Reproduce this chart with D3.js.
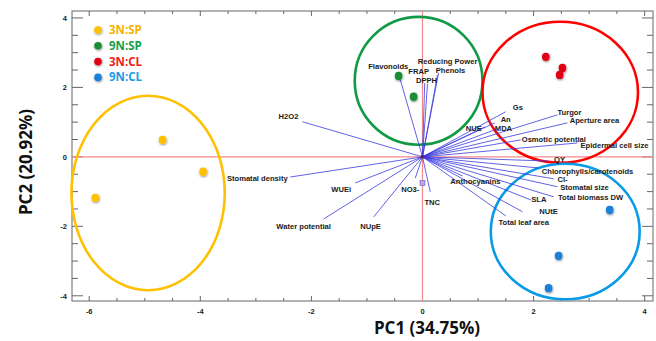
<!DOCTYPE html>
<html>
<head>
<meta charset="utf-8">
<script src="https://cdn.jsdelivr.net/npm/d3@7"></script>
<style>
  body { margin: 0; background: #fff; }
  svg { display: block; }
  text { font-family: "Liberation Sans", Arial, sans-serif; }
</style>
</head>
<body>
<div id="chart"></div>
<script>
// groups (scores)
var groups = ["3N:SP", "9N:SP", "3N:CL", "9N:CL"];
var groupColors = ["#ffc000", "#1e8c35", "#e30613", "#1a7fd8"];
var legendColors = ["#f5b400", "#13a04a", "#f01c1c", "#1d9be8"];
var ringColors = ["#ffc000", "#119a45", "#ff0000", "#0a9be6"];

var scoreX = [[-4.68, -3.95, -5.89], [-0.43, -0.16], [2.22, 2.52, 2.47], [3.37, 2.45, 2.27]];
var scoreY = [[0.49, -0.43, -1.18], [2.33, 1.73], [2.88, 2.56, 2.36], [-1.53, -2.85, -3.78]];

// confidence rings (centre + radii, data units)
var ringCx = [-4.94, -0.07, 2.48, 2.57];
var ringCy = [-1.04, 2.19, 1.86, -2.15];
var ringRx = [1.38, 1.15, 1.40, 1.34];
var ringRy = [2.80, 1.84, 2.03, 1.95];

// variable loadings
var varNames = ["H2O2", "Stomatal density", "WUEi", "Water potential", "NUpE", "NO3-", "TNC",
  "Flavonoids", "FRAP", "DPPH", "Reducing Power", "Phenols",
  "Gs", "An", "NUE", "MDA", "Turgor", "Aperture area", "Osmotic potential", "Epidermal cell size",
  "QY", "Chlorophylls/carotenoids", "Cl-", "Stomatal size", "Total biomass DW", "SLA",
  "Anthocyanins", "NUtE", "Total leaf area"];
var loadX = [-2.16, -2.38, -1.21, -1.78, -0.88, -0.13, 0.14,
  -0.40, 0.04, 0.09, 0.29, 0.27,
  1.50, 1.30, 1.12, 1.35, 2.43, 2.61, 1.77, 2.79,
  2.27, 2.09, 2.36, 2.43, 2.36, 1.95,
  0.72, 1.80, 1.50];
var loadY = [1.01, -0.58, -0.75, -1.79, -1.73, -0.61, -1.01,
  2.22, 2.13, 2.10, 2.42, 2.36,
  1.30, 0.98, 0.86, 0.81, 1.21, 0.98, 0.49, 0.40,
  -0.12, -0.32, -0.63, -0.86, -1.15, -1.24,
  -0.55, -1.58, -1.70];

// label nudges in px (layout only)
var labelDx = [-14, -33, -14, -20, -3, -5, 2, -12, -6, -1, 9, 13, 12, 11, -11, 6, 12, 27, 33, 37, 11, 49, 9, 27, 37, 8, 13, 26, 18];
var labelDy = [-5, 1, 6, 7, 9, 11, 10, -13, -12, -4, -11, -5, -4, -3, 1, 0, -3, -2, -1, 2, -2, 3, 1, 1, 1, -1, 5, 0, 6];

var xTicks = [-6, -4, -2, 0, 2, 4];
var yTicks = [-4, -2, 0, 2, 4];

var W = 656, H = 341;
var plot = {left: 72, right: 653, top: 11, bottom: 301};

var svg = d3.select("#chart").append("svg")
    .attr("width", W)
    .attr("height", H);

var defs = svg.append("defs");
var f = defs.append("filter").attr("id", "shadow")
    .attr("x", "-80%").attr("y", "-80%").attr("width", "260%").attr("height", "260%");
f.append("feDropShadow").attr("dx", 0.5).attr("dy", 1).attr("stdDeviation", 1.2)
    .attr("flood-color", "#000").attr("flood-opacity", 0.45);

var x = d3.scaleLinear().domain([-6.31, 4.15]).range([plot.left, plot.right]);
var y = d3.scaleLinear().domain([-4.15, 4.2]).range([plot.bottom, plot.top]);

// frame
svg.append("rect")
    .attr("x", plot.left).attr("y", plot.top)
    .attr("width", plot.right - plot.left).attr("height", plot.bottom - plot.top)
    .attr("fill", "none").attr("stroke", "#666").attr("stroke-width", 1);

// ticks inward, all four sides
var xMinor = d3.range(-6, 4.01, 0.5);
var yMinor = d3.range(-4, 4.01, 0.5);
var tk = svg.append("g").attr("stroke", "#666").attr("stroke-width", 1);
xMinor.forEach(function(v) {
  var major = v % 2 === 0, len = major ? 5 : 3;
  tk.append("line").attr("x1", x(v)).attr("x2", x(v)).attr("y1", plot.bottom).attr("y2", plot.bottom - len);
  tk.append("line").attr("x1", x(v)).attr("x2", x(v)).attr("y1", plot.top).attr("y2", plot.top + len);
});
yMinor.forEach(function(v) {
  var major = v % 2 === 0, len = major ? 11 : 6;
  tk.append("line").attr("y1", y(v)).attr("y2", y(v)).attr("x1", plot.left).attr("x2", plot.left + len);
  tk.append("line").attr("y1", y(v)).attr("y2", y(v)).attr("x1", plot.right).attr("x2", plot.right - len);
});

svg.append("g").selectAll("text").data(xTicks).join("text")
    .attr("x", function(d) { return x(d); })
    .attr("y", plot.bottom + 13)
    .attr("text-anchor", "middle")
    .attr("font-size", 7.5).attr("font-weight", "bold").attr("fill", "#222")
    .text(function(d) { return d; });

svg.append("g").selectAll("text").data(yTicks).join("text")
    .attr("x", plot.left - 5)
    .attr("y", function(d) { return y(d) + 3; })
    .attr("text-anchor", "end")
    .attr("font-size", 7.5).attr("font-weight", "bold").attr("fill", "#222")
    .text(function(d) { return d; });

// axis titles
svg.append("text")
    .attr("x", 427).attr("y", 334)
    .attr("text-anchor", "middle")
    .attr("font-family", "'Open Sans', sans-serif")
    .attr("font-size", 17).attr("font-weight", "bold").attr("fill", "#111")
    .style("font-family", "'Open Sans', sans-serif")
    .text("PC1 (34.75%)");

svg.append("text")
    .attr("transform", "translate(32,162) rotate(-90)")
    .attr("text-anchor", "middle")
    .attr("font-size", 17).attr("font-weight", "bold").attr("fill", "#111")
    .style("font-family", "'Open Sans', sans-serif")
    .text("PC2 (20.92%)");

// zero lines
svg.append("line")
    .attr("x1", plot.left).attr("x2", plot.right).attr("y1", y(0)).attr("y2", y(0))
    .attr("stroke", "#f48a8a").attr("stroke-width", 1.2);
svg.append("line")
    .attr("x1", x(0)).attr("x2", x(0)).attr("y1", plot.top).attr("y2", plot.bottom)
    .attr("stroke", "#f48a8a").attr("stroke-width", 1.2);

// rings
svg.append("g").selectAll("ellipse").data(groups).join("ellipse")
    .attr("cx", function(d, i) { return x(ringCx[i]); })
    .attr("cy", function(d, i) { return y(ringCy[i]); })
    .attr("rx", function(d, i) { return x(ringRx[i]) - x(0); })
    .attr("ry", function(d, i) { return y(0) - y(ringRy[i]); })
    .attr("fill", "none")
    .attr("stroke", function(d, i) { return ringColors[i]; })
    .attr("stroke-width", 2.6);

// vectors
var vecs = varNames.map(function(n, i) { return {name: n, x: loadX[i], y: loadY[i], dx: labelDx[i], dy: labelDy[i]}; });
svg.append("g").selectAll("line").data(vecs).join("line")
    .attr("x1", x(0)).attr("y1", y(0))
    .attr("x2", function(d) { return x(d.x); })
    .attr("y2", function(d) { return y(d.y); })
    .attr("stroke", "#3a3ae0").attr("stroke-width", 0.8);

svg.append("rect")
    .attr("x", x(0) - 2.5).attr("y", y(-0.75) - 2.5).attr("width", 5).attr("height", 5)
    .attr("fill", "#b9a6e6").attr("stroke", "#6a5acd").attr("stroke-width", 0.6);
svg.append("circle").attr("cx", x(0)).attr("cy", y(0)).attr("r", 2).attr("fill", "#6a1a6a");

svg.append("g").selectAll("text").data(vecs).join("text")
    .attr("x", function(d) { return x(d.x) + d.dx; })
    .attr("y", function(d) { return y(d.y) + d.dy; })
    .attr("dy", "0.35em")
    .attr("text-anchor", "middle")
    .attr("font-size", 7.6).attr("font-weight", "bold").attr("fill", "#1a1a1a")
    .text(function(d) { return d.name; });

// scores
groups.forEach(function(g, gi) {
  var pts = scoreX[gi].map(function(v, k) { return [v, scoreY[gi][k]]; });
  svg.append("g").selectAll("ellipse").data(pts).join("ellipse")
      .attr("cx", function(d) { return x(d[0]); })
      .attr("cy", function(d) { return y(d[1]); })
      .attr("rx", 3.8).attr("ry", 4.2)
      .attr("fill", groupColors[gi])
      .attr("filter", "url(#shadow)");
});

// legend
var lg = svg.append("g");
groups.forEach(function(g, i) {
  var ly = 30 + i * 15.8;
  lg.append("circle").attr("cx", 98).attr("cy", ly).attr("r", 3.8)
      .attr("fill", groupColors[i]).attr("filter", "url(#shadow)");
  lg.append("text").attr("x", 109).attr("y", ly + 4)
      .attr("font-size", 11.5).attr("font-weight", "bold")
      .attr("fill", legendColors[i])
      .style("font-family", "'Open Sans', sans-serif")
      .text(g);
});
</script>
</body>
</html>
